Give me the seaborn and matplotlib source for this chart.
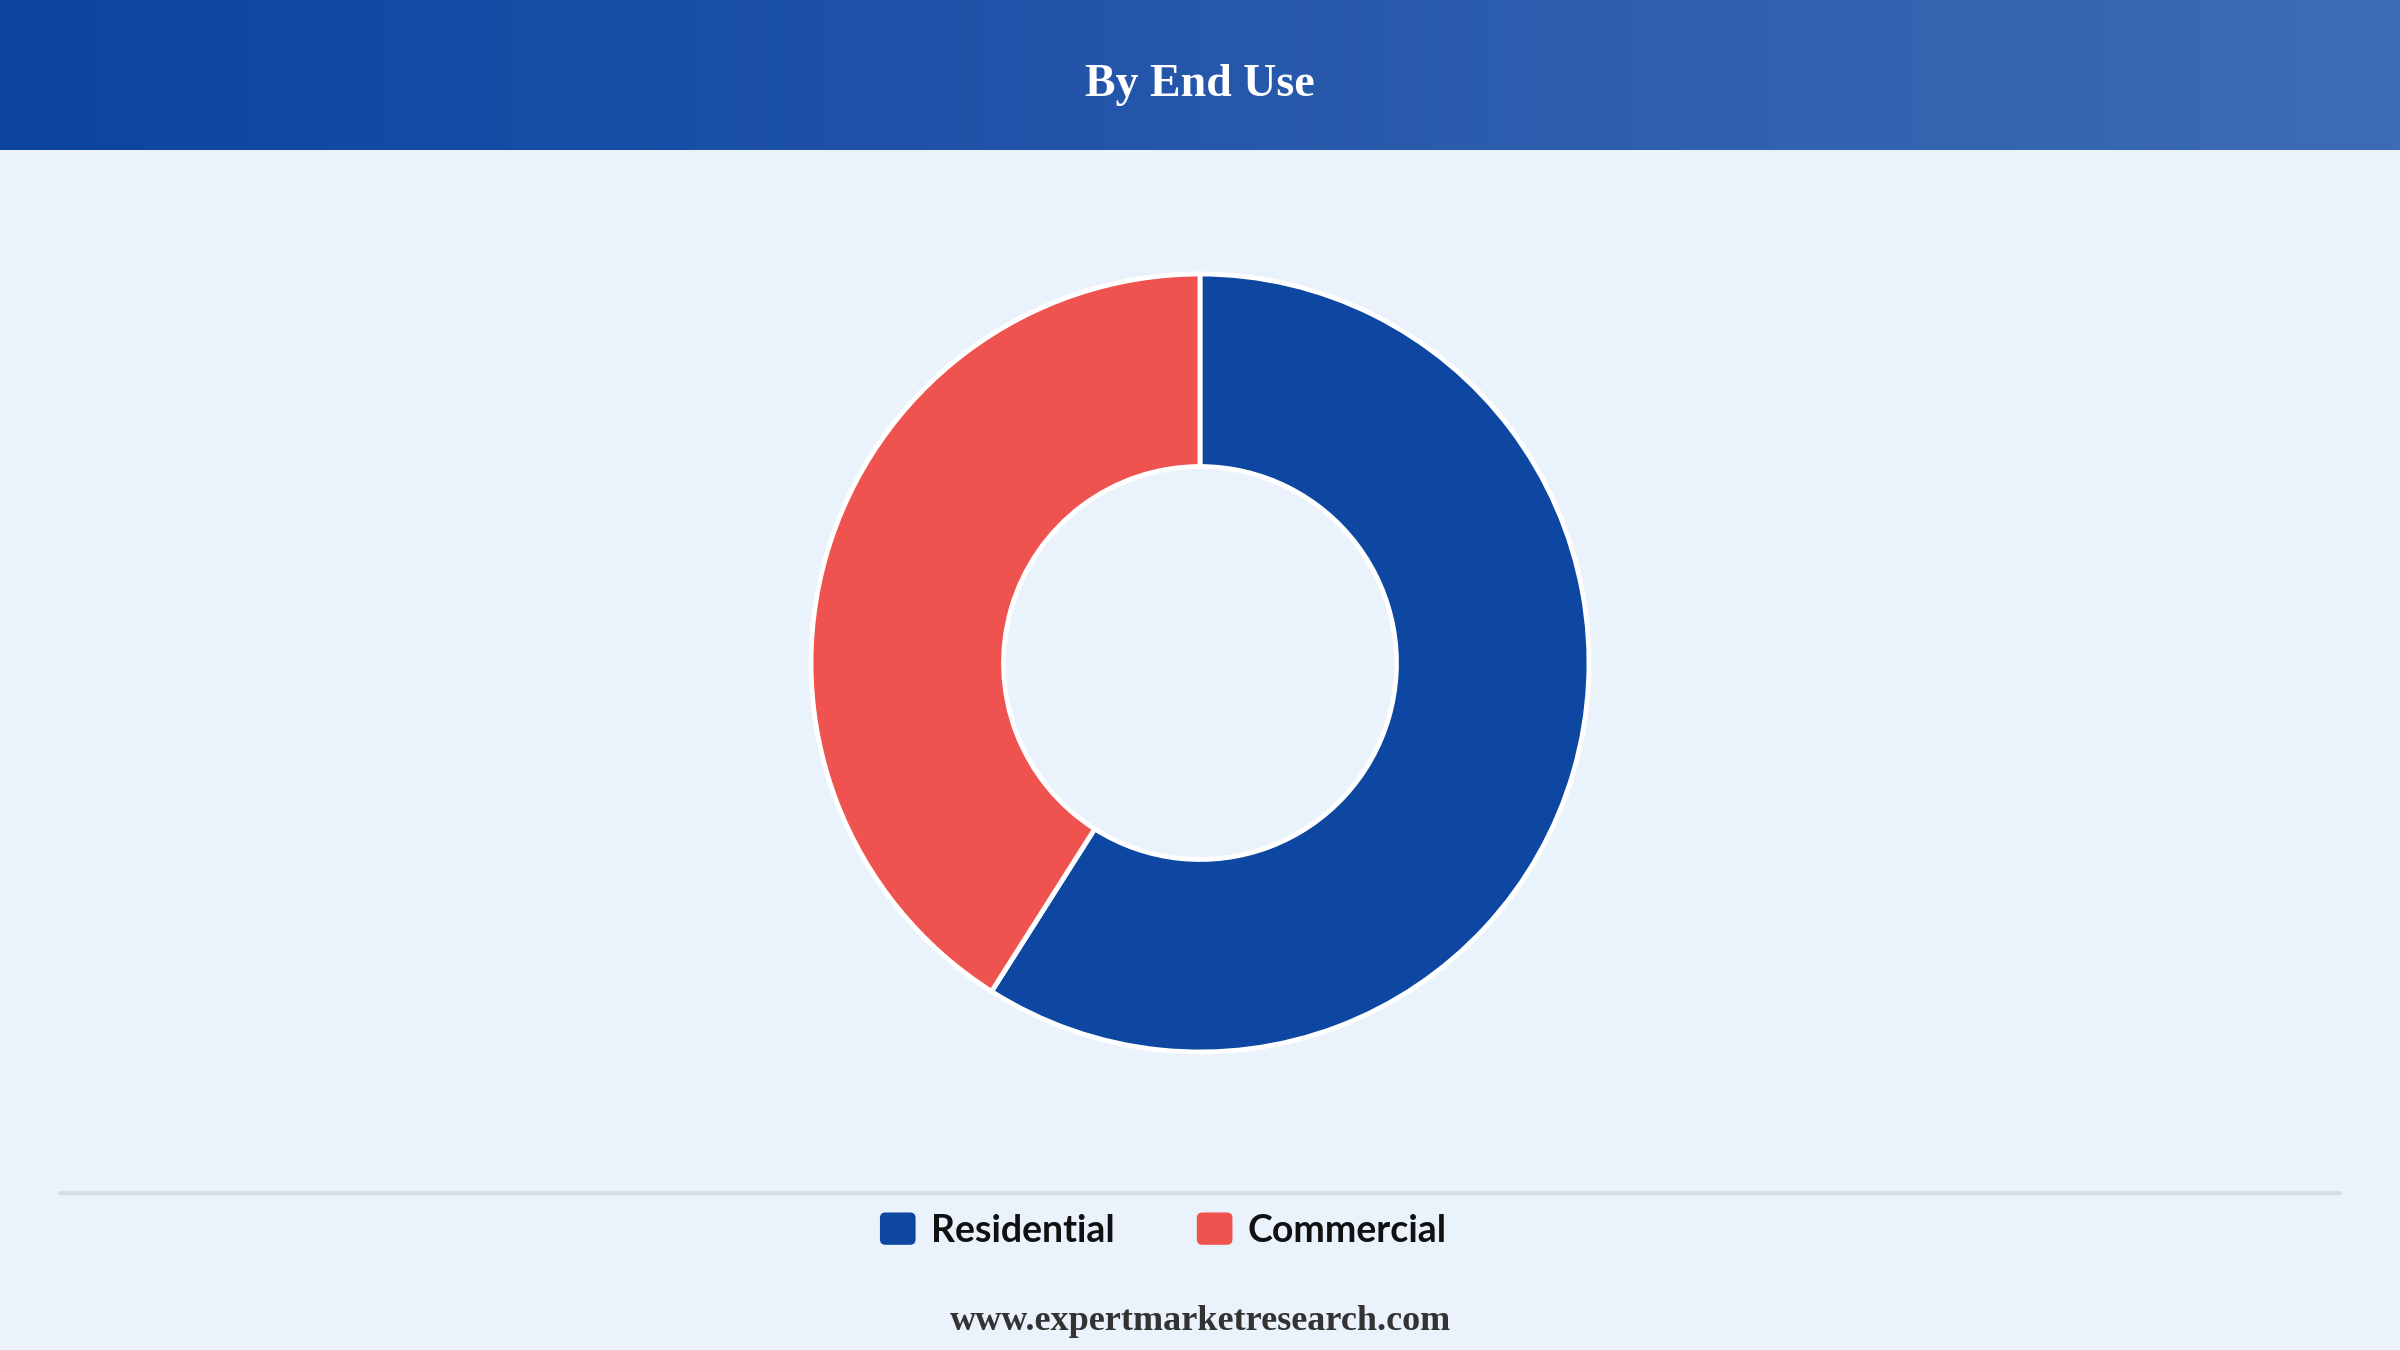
import numpy as np
import matplotlib
matplotlib.use('Agg')
import matplotlib.pyplot as plt
import seaborn as sns
from matplotlib.colors import LinearSegmentedColormap
from matplotlib.patches import Patch, FancyBboxPatch
from matplotlib.lines import Line2D
from matplotlib.legend_handler import HandlerPatch

# Data
segments = ['Residential', 'Commercial']
shares = [59, 41]
colors = ['#0D47A1', '#EF5350']
title = 'By End Use'
source = 'www.expertmarketresearch.com'

sns.set_theme(style='white')
plt.rcParams['font.family'] = ['Lato', 'DejaVu Sans']

bg = '#EAF2FB'
fig = plt.figure(figsize=(24, 13.5), dpi=100, facecolor=bg)

# Header band with left-to-right gradient
hdr = fig.add_axes([0, 1 - 150 / 1350, 1, 150 / 1350])
cmap = LinearSegmentedColormap.from_list('hdr', ['#0B44A0', '#2557AB', '#3E6CB4'])
hdr.imshow(np.linspace(0, 1, 256).reshape(1, -1), aspect='auto', cmap=cmap,
           extent=[0, 1, 0, 1])
hdr.set_axis_off()
hdr.text(0.5, 0.43, title, ha='center', va='center', color='white',
         fontsize=33, fontweight='bold', family='Liberation Serif')

# Donut
r_px = 389
cx, cy = 1200, 663
ax = fig.add_axes([(cx - r_px) / 2400, (1350 - cy - r_px) / 1350,
                   2 * r_px / 2400, 2 * r_px / 1350])
ax.set_facecolor(bg)
wedges, _ = ax.pie(shares, colors=colors, startangle=90, counterclock=False,
                   radius=1, wedgeprops=dict(width=0.495, edgecolor='white', linewidth=3.5))
ax.set_xlim(-1.0, 1.0)
ax.set_ylim(-1.0, 1.0)
ax.set_axis_off()

# Divider line above legend
fig.add_artist(Line2D([60 / 2400, 2340 / 2400], [1 - 1193 / 1350] * 2,
                      color='#DADDE2', linewidth=3, transform=fig.transFigure))


class RoundHandler(HandlerPatch):
    def create_artists(self, legend, orig_handle, xdescent, ydescent,
                       width, height, fontsize, trans):
        p = FancyBboxPatch((-xdescent, -ydescent), width, height,
                           boxstyle='round,pad=0,rounding_size=4',
                           facecolor=orig_handle.get_facecolor(),
                           edgecolor='none', transform=trans)
        return [p]


handles = [Patch(facecolor=c, edgecolor='none') for c in colors]
leg = fig.legend(handles, segments, loc='center', bbox_to_anchor=(760 / 1568, 1 - 1230 / 1350),
                 ncol=2, frameon=False, handlelength=0.95, handleheight=0.95,
                 handletextpad=0.4, columnspacing=2.2,
                 handler_map={Patch: RoundHandler()},
                 prop=dict(family='Lato', weight='bold', size=27))
for t in leg.get_texts():
    t.set_color('#111111')

fig.text(0.5, 1 - 1322 / 1350, source, ha='center', va='center', color='#333333',
         fontsize=26, fontweight='bold', family='Liberation Serif')

fig.savefig('out.png', dpi=100, facecolor=bg)
